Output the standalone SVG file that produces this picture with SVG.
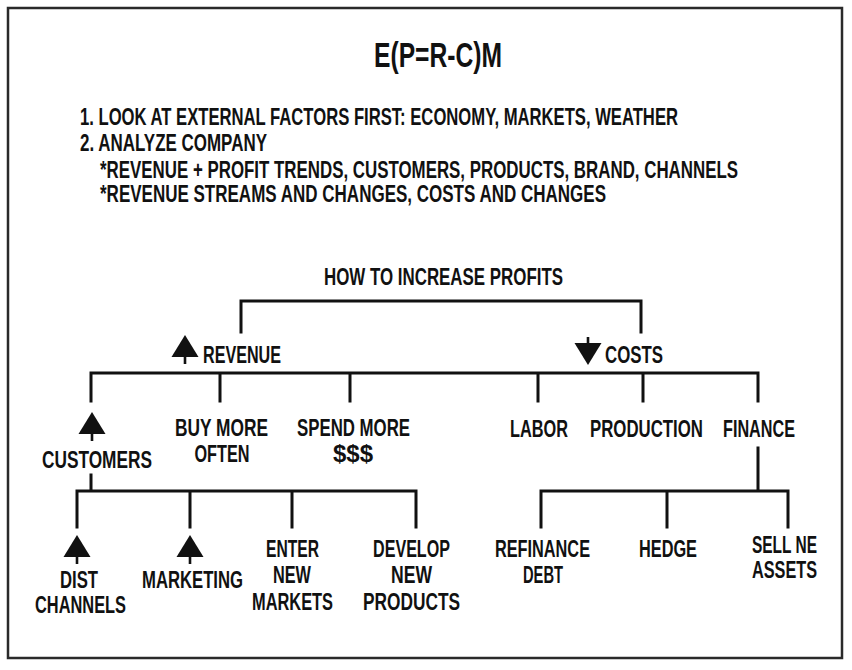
<svg xmlns="http://www.w3.org/2000/svg" width="852" height="670" viewBox="0 0 852 670">
<style>
text{font-family:"Liberation Sans","Arial",sans-serif;font-weight:bold;fill:#111;font-size:24px;text-anchor:middle}
.l{text-anchor:start}
.ln{stroke:#111;stroke-width:3;fill:none;stroke-linecap:square}
</style>
<defs>
<g id="up"><polygon points="0,0 -13.5,22 13.5,22" fill="#111"/><rect x="-1.3" y="21" width="2.6" height="8" fill="#111"/></g>
<g id="down"><polygon points="0,0 -13.5,-22 13.5,-22" fill="#111"/><rect x="-1.3" y="-28" width="2.6" height="8" fill="#111"/></g>
</defs>
<rect x="8" y="8" width="834" height="650" fill="#fff" stroke="#2a2a2a" stroke-width="2.5"/>
<g id="header">
<text x="438" y="67" style="font-size:35px" textLength="128" lengthAdjust="spacingAndGlyphs">E(P=R-C)M</text>
<text class="l" x="80" y="125" textLength="598" lengthAdjust="spacingAndGlyphs">1. LOOK AT EXTERNAL FACTORS FIRST: ECONOMY, MARKETS, WEATHER</text>
<text class="l" x="80" y="151" textLength="187" lengthAdjust="spacingAndGlyphs">2. ANALYZE COMPANY</text>
<text class="l" x="100" y="178" textLength="638" lengthAdjust="spacingAndGlyphs">*REVENUE + PROFIT TRENDS, CUSTOMERS, PRODUCTS, BRAND, CHANNELS</text>
<text class="l" x="100" y="202" textLength="506" lengthAdjust="spacingAndGlyphs">*REVENUE STREAMS AND CHANGES, COSTS AND CHANGES</text>
</g>
<g id="connectors">
<path class="ln" d="M241,332 V301 H641 V332"/>
<path class="ln" d="M91,401 V373 H758 V401 M220,373 V401 M350,373 V401 M538,373 V401 M643,373 V401"/>
<path class="ln" d="M91,475 V491 M77,527 V491 H416 V527 M190,491 V527 M292,491 V527"/>
<path class="ln" d="M758,448 V491 M541,527 V491 H788 V527 M667,491 V527"/>
</g>
<g id="root"><text x="443.5" y="285" textLength="239" lengthAdjust="spacingAndGlyphs">HOW TO INCREASE PROFITS</text></g>
<g id="revenue"><use href="#up" x="185" y="335"/><text class="l" x="203" y="363" textLength="78" lengthAdjust="spacingAndGlyphs">REVENUE</text></g>
<g id="costs"><use href="#down" x="588" y="365"/><text class="l" x="605" y="363" textLength="58" lengthAdjust="spacingAndGlyphs">COSTS</text></g>
<g id="customers"><use href="#up" x="92" y="412"/><text x="97" y="468" textLength="110" lengthAdjust="spacingAndGlyphs">CUSTOMERS</text></g>
<g id="buymore"><text x="221.5" y="436" textLength="93" lengthAdjust="spacingAndGlyphs">BUY MORE</text><text x="222" y="462" textLength="55" lengthAdjust="spacingAndGlyphs">OFTEN</text></g>
<g id="spendmore"><text x="353.5" y="436" textLength="113" lengthAdjust="spacingAndGlyphs">SPEND MORE</text><text x="353" y="462" textLength="40" lengthAdjust="spacingAndGlyphs">$$$</text></g>
<g id="labor"><text x="539" y="437" textLength="58" lengthAdjust="spacingAndGlyphs">LABOR</text></g>
<g id="production"><text x="646.5" y="437" textLength="113" lengthAdjust="spacingAndGlyphs">PRODUCTION</text></g>
<g id="finance"><text x="759" y="437" textLength="72" lengthAdjust="spacingAndGlyphs">FINANCE</text></g>
<g id="dist"><use href="#up" x="77" y="535"/><text x="79" y="588" textLength="38" lengthAdjust="spacingAndGlyphs">DIST</text><text x="80.5" y="613" textLength="91" lengthAdjust="spacingAndGlyphs">CHANNELS</text></g>
<g id="marketing"><use href="#up" x="190" y="535"/><text x="192.5" y="588" textLength="101" lengthAdjust="spacingAndGlyphs">MARKETING</text></g>
<g id="enter"><text x="292.5" y="557" textLength="53" lengthAdjust="spacingAndGlyphs">ENTER</text><text x="292" y="583" textLength="38" lengthAdjust="spacingAndGlyphs">NEW</text><text x="292.5" y="610" textLength="81" lengthAdjust="spacingAndGlyphs">MARKETS</text></g>
<g id="develop"><text x="411.5" y="557" textLength="77" lengthAdjust="spacingAndGlyphs">DEVELOP</text><text x="411.5" y="583" textLength="41" lengthAdjust="spacingAndGlyphs">NEW</text><text x="411.5" y="610" textLength="97" lengthAdjust="spacingAndGlyphs">PRODUCTS</text></g>
<g id="refinance"><text x="542.5" y="557" textLength="95" lengthAdjust="spacingAndGlyphs">REFINANCE</text><text x="543" y="583" textLength="40" lengthAdjust="spacingAndGlyphs">DEBT</text></g>
<g id="hedge"><text x="668" y="557" textLength="58" lengthAdjust="spacingAndGlyphs">HEDGE</text></g>
<g id="sell"><text x="784.5" y="553" textLength="65" lengthAdjust="spacingAndGlyphs">SELL NE</text><text x="784.5" y="578" textLength="65" lengthAdjust="spacingAndGlyphs">ASSETS</text></g>
</svg>
